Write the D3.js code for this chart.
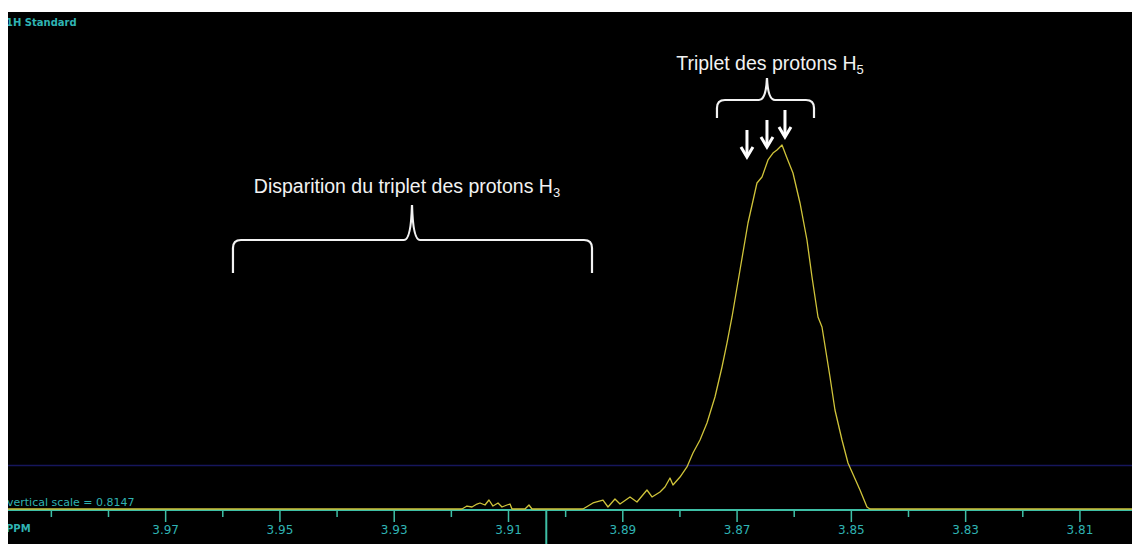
<!DOCTYPE html>
<html><head><meta charset="utf-8">
<script src="https://cdn.jsdelivr.net/npm/d3@7"></script>
<style>html,body{margin:0;padding:0;background:#fff;overflow:hidden}</style>
</head><body>
<svg id="c" width="1132" height="544"></svg>
<script>
// ---- data ----
const ppm = [3.9975,3.91805,3.91718,3.9163,3.91543,3.9149,3.91403,3.91333,3.91263,3.91175,3.91105,3.91018,3.90965,3.9093,3.90703,3.90633,3.9058,
  3.89688,3.89513,3.89338,3.8925,3.89128,3.8904,3.88865,3.88743,3.88568,3.8848,3.8834,3.88253,3.88165,3.88113,3.8799,3.87868,3.87763,3.8764,3.87518,
  3.87378,3.87255,3.87168,3.8708,3.8694,3.868,3.86643,3.86555,3.8645,3.86363,3.86293,3.86205,3.86118,3.86013,3.8589,3.85768,3.8568,3.85575,3.85505,
  3.85365,3.85278,3.85155,3.8505,3.8484,3.84718,3.84665,3.8008];
const intensity = [0,0,0.82,0.55,1.37,1.65,1.10,2.47,0.82,1.65,0.55,1.10,1.37,0,0,1.10,0,
  0,1.65,2.47,0.55,2.75,1.37,3.30,1.92,5.22,3.30,4.67,6.04,8.52,6.59,8.79,11.54,15.38,18.96,23.63,
  30.77,39.01,45.60,52.75,65.66,78.57,89.56,91.21,95.88,97.80,98.63,100,96.43,92.31,84.07,73.90,63.74,52.75,50.0,
  36.26,27.20,18.96,12.64,5.22,0.55,0,0];
const majorTicks = [3.97,3.95,3.93,3.91,3.89,3.87,3.85,3.83,3.81];
const minorTicks = [3.99,3.98,3.96,3.94,3.92,3.90,3.88,3.86,3.84,3.82];
const cursorPpm = 3.9033;
const tripletArrows = [3.86818,3.86468,3.86153];
const titleText = "1H Standard";
const scaleText = "vertical scale = 0.8147";
const unitText = "PPM";

// ---- drawing ----
const svg = d3.select("#c");
const X0 = 8, X1 = 1132, Y0 = 12, Y1 = 544;
svg.append("rect").attr("x",X0).attr("y",Y0).attr("width",X1-X0).attr("height",Y1-Y0).attr("fill","#000");
svg.append("clipPath").attr("id","clip").append("rect").attr("x",X0).attr("y",Y0).attr("width",X1-X0).attr("height",Y1-Y0);
const g = svg.append("g").attr("clip-path","url(#clip)");

const x = d3.scaleLinear().domain([3.9975,3.8008]).range([X0,X1]);
const y = d3.scaleLinear().domain([0,100]).range([509,145]);

// dark blue reference line
g.append("line").attr("x1",X0).attr("x2",X1).attr("y1",465.5).attr("y2",465.5)
  .attr("stroke","#16165c").attr("stroke-width",1.5);

const teal = "#2fb3b3", axisCol = "#3ebfa6";

// axes
const axY = 510;
const minorAx = d3.axisBottom(x).tickValues(minorTicks).tickSize(7).tickFormat("");
const majorAx = d3.axisBottom(x).tickValues(majorTicks).tickSize(12).tickPadding(2).tickFormat(d3.format(".2f"));
const gMin = g.append("g").attr("transform",`translate(0,${axY})`).call(minorAx);
const gMaj = g.append("g").attr("transform",`translate(0,${axY})`).call(majorAx);
[gMin,gMaj].forEach(a=>{
  a.select(".domain").attr("stroke",axisCol).attr("stroke-width",2).attr("d",`M${X0},0H${X1}`);
  a.selectAll(".tick line").attr("stroke",axisCol).attr("stroke-width",1.5);
});
gMaj.selectAll(".tick text").attr("fill",teal).attr("font-family","DejaVu Sans, Verdana, sans-serif")
  .attr("font-size",12).attr("font-weight","normal").attr("dy","0.85em");

// cursor
g.append("line").attr("x1",x(cursorPpm)).attr("x2",x(cursorPpm)).attr("y1",axY).attr("y2",Y1)
  .attr("stroke",axisCol).attr("stroke-width",2);

// spectrum
const pts = ppm.map((p,i)=>[p,intensity[i]]);
g.append("path").datum(pts)
  .attr("d",d3.line().x(d=>x(d[0])).y(d=>y(d[1])))
  .attr("fill","none").attr("stroke","#d0c43a").attr("stroke-width",1.3).attr("stroke-linejoin","round");

// texts
const mono = "DejaVu Sans, Verdana, sans-serif";
g.append("text").attr("x",X0-2).attr("y",26).text(titleText).attr("fill",teal)
  .attr("font-family",mono).attr("font-size",10).attr("font-weight","bold");
g.append("text").attr("x",X0-1).attr("y",506).text(scaleText).attr("fill",teal)
  .attr("font-family",mono).attr("font-size",11);
g.append("text").attr("x",X0-2).attr("y",532).text(unitText).attr("fill",teal)
  .attr("font-family",mono).attr("font-size",10).attr("font-weight","bold");

// annotations
const sans = "Liberation Sans, Arial, sans-serif";
function label(cx, baseY, main, sub){
  const t = g.append("text").attr("x",cx).attr("y",baseY).attr("text-anchor","middle")
    .attr("fill","#f2f2f2").attr("font-family",sans).attr("font-size",19.5);
  t.append("tspan").text(main);
  t.append("tspan").text(sub).attr("font-size",13).attr("dy",4);
}
function brace(xa, xb, xc, yh, yb, yt){
  const r = 8;
  const p = `M${xa},${yb} L${xa},${yh+r} Q${xa},${yh} ${xa+r},${yh} L${xc-r},${yh} Q${xc-1},${yh} ${xc},${yt}`+
            ` Q${xc+1},${yh} ${xc+r},${yh} L${xb-r},${yh} Q${xb},${yh} ${xb},${yh+r} L${xb},${yb}`;
  g.append("path").attr("d",p).attr("fill","none").attr("stroke","#f2f2f2").attr("stroke-width",2.2);
}
label(770, 70, "Triplet des protons H", "5");
brace(x(3.87343),x(3.85645),x(3.86468),100,118,78);
label(407, 193, "Disparition du triplet des protons H", "3");
brace(x(3.95813),x(3.8953),x(3.9268),240,273,205);

// arrows
const arrowTops = [130,120,110];
tripletArrows.forEach((p,i)=>{
  const ax = x(p), top = arrowTops[i], tip = top+27;
  g.append("line").attr("x1",ax).attr("x2",ax).attr("y1",top).attr("y2",tip-3)
    .attr("stroke","#fff").attr("stroke-width",3);
  g.append("path").attr("d",`M${ax-6},${tip-10} L${ax},${tip} L${ax+6},${tip-10}`)
    .attr("fill","none").attr("stroke","#fff").attr("stroke-width",3).attr("stroke-linejoin","miter");
});
</script>
</body></html>
